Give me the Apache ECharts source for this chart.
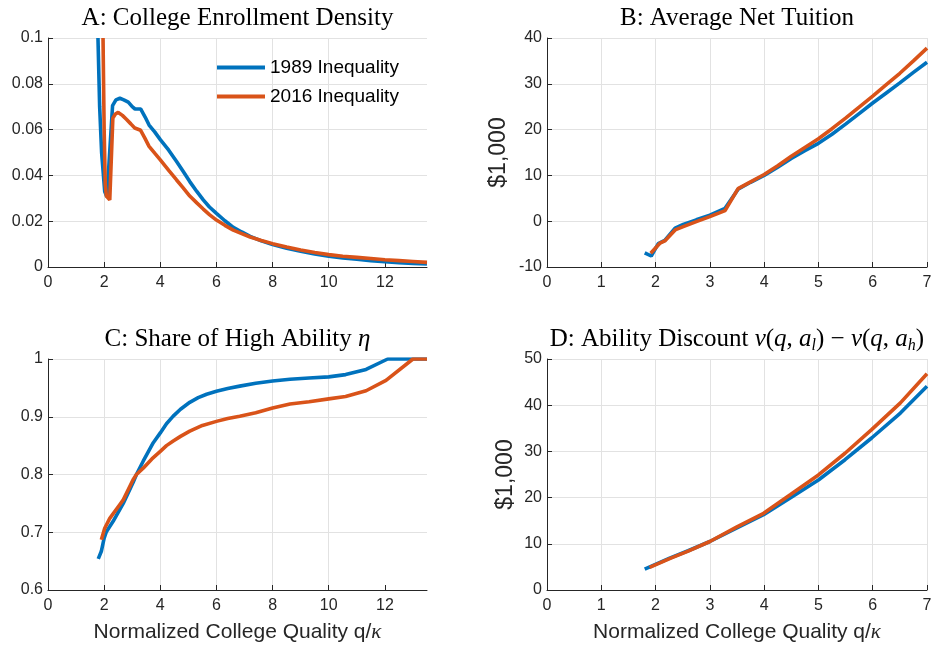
<!DOCTYPE html>
<html>
<head>
<meta charset="utf-8">
<script src="https://cdn.jsdelivr.net/npm/echarts@6/dist/echarts.min.js"></script>
<style>
html, body { margin: 0; padding: 0; background: #fff; }
#chart { width: 935px; height: 648px; }
</style>
</head>
<body>
<div id="chart"></div>
<script>
// ---- Panel A: college enrollment density ----
const qA1989 = [1.78, 1.84, 1.91, 2.02, 2.10, 2.16, 2.30, 2.42, 2.56, 2.70, 2.86, 3.00, 3.10, 3.30, 3.46, 3.60, 3.80, 4.00, 4.30, 4.58, 4.80, 5.05, 5.30, 5.53, 5.75, 6.00, 6.30, 6.60, 6.90, 7.20, 7.60, 8.00, 8.50, 9.00, 9.50, 10.0, 10.5, 11.0, 11.5, 12.0, 12.5, 13.0, 13.5];
const densA1989 = [0.100, 0.070, 0.050, 0.033, 0.0307, 0.0305, 0.0705, 0.0730, 0.0737, 0.0730, 0.0720, 0.0700, 0.0690, 0.0690, 0.0655, 0.0620, 0.0590, 0.0556, 0.0510, 0.0461, 0.0420, 0.0373, 0.0330, 0.0293, 0.0262, 0.0234, 0.0202, 0.0173, 0.0153, 0.0134, 0.0114, 0.0098, 0.0082, 0.0069, 0.0057, 0.0047, 0.0040, 0.0034, 0.0028, 0.0023, 0.0019, 0.0016, 0.0013];
const qA2016 = [1.96, 2.00, 2.04, 2.08, 2.20, 2.24, 2.31, 2.40, 2.50, 2.65, 2.80, 2.95, 3.09, 3.30, 3.45, 3.60, 3.80, 4.00, 4.30, 4.58, 4.80, 5.05, 5.30, 5.53, 5.75, 6.00, 6.30, 6.60, 6.90, 7.20, 7.60, 8.00, 8.50, 9.00, 9.50, 10.0, 10.5, 11.0, 11.5, 12.0, 12.5, 13.0, 13.5];
const densA2016 = [0.100, 0.060, 0.036, 0.031, 0.0293, 0.0300, 0.0650, 0.0668, 0.0675, 0.0662, 0.0644, 0.0625, 0.0607, 0.0597, 0.0563, 0.0527, 0.0497, 0.0468, 0.0422, 0.0380, 0.0348, 0.0310, 0.0280, 0.0253, 0.0229, 0.0205, 0.0182, 0.0161, 0.0146, 0.0131, 0.0116, 0.0102, 0.0087, 0.0074, 0.0063, 0.0054, 0.0047, 0.0042, 0.0037, 0.0032, 0.0028, 0.0024, 0.0020];

// ---- Panel B: average net tuition ($1,000) ----
const qB1989 = [1.80, 1.92, 2.05, 2.17, 2.36, 2.51, 2.75, 3.00, 3.28, 3.52, 3.75, 4.00, 4.25, 4.50, 4.75, 5.00, 5.25, 5.50, 5.75, 6.00, 6.25, 6.50, 6.75, 7.00];
const tuitB1989 = [-6.9, -7.6, -4.9, -4.2, -1.5, -0.7, 0.3, 1.3, 2.8, 7.0, 8.5, 10.0, 11.8, 13.7, 15.4, 17.0, 19.0, 21.2, 23.5, 25.8, 28.0, 30.2, 32.5, 34.7];
const qB2016 = [1.91, 2.08, 2.17, 2.36, 2.51, 2.75, 3.00, 3.28, 3.52, 3.75, 4.00, 4.25, 4.50, 4.75, 5.00, 5.25, 5.50, 5.75, 6.00, 6.25, 6.50, 6.75, 7.00];
const tuitB2016 = [-7.0, -4.8, -4.3, -1.9, -1.2, -0.1, 1.0, 2.3, 7.1, 8.6, 10.2, 12.1, 14.2, 16.1, 18.0, 20.2, 22.5, 24.9, 27.3, 29.8, 32.3, 35.0, 37.8];

// ---- Panel C: share of high ability ----
const qC1989 = [1.79, 1.90, 2.00, 2.08, 2.32, 2.68, 3.03, 3.15, 3.39, 3.75, 4.00, 4.22, 4.46, 4.72, 5.05, 5.35, 5.65, 6.00, 6.40, 6.83, 7.40, 8.00, 8.62, 9.30, 10.0, 10.6, 11.33, 12.1, 13.5];
const etaC1989 = [0.654, 0.667, 0.690, 0.701, 0.719, 0.750, 0.786, 0.800, 0.823, 0.855, 0.872, 0.888, 0.901, 0.913, 0.925, 0.933, 0.939, 0.944, 0.949, 0.953, 0.958, 0.962, 0.965, 0.967, 0.969, 0.973, 0.982, 1.0, 1.0];
const qC2016 = [1.90, 2.02, 2.20, 2.56, 2.68, 3.03, 3.15, 3.39, 3.70, 4.00, 4.22, 4.46, 4.72, 5.05, 5.50, 6.00, 6.40, 6.83, 7.40, 8.00, 8.62, 9.30, 10.0, 10.6, 11.33, 12.04, 13.0, 13.5];
const etaC2016 = [0.687, 0.707, 0.724, 0.748, 0.756, 0.791, 0.800, 0.811, 0.827, 0.840, 0.850, 0.858, 0.866, 0.875, 0.885, 0.892, 0.897, 0.901, 0.907, 0.915, 0.922, 0.926, 0.931, 0.935, 0.945, 0.963, 1.0, 1.0];

// ---- Panel D: ability discount ($1,000) ----
const qD1989 = [1.80, 2.26, 2.60, 3.00, 3.49, 3.99, 4.48, 5.00, 5.49, 5.98, 6.51, 7.00];
const discD1989 = [4.5, 6.9, 8.5, 10.5, 13.4, 16.3, 19.9, 23.8, 28.2, 32.9, 38.3, 44.1];
const qD2016 = [1.89, 2.26, 2.60, 3.00, 3.49, 3.99, 4.48, 5.00, 5.49, 5.98, 6.51, 7.00];
const discD2016 = [4.9, 6.8, 8.4, 10.5, 13.6, 16.6, 20.6, 24.9, 29.6, 34.7, 40.5, 46.8];

const xTicksWide = [0, 2, 4, 6, 8, 10, 12];
const seriesNames = ['1989 Inequality', '2016 Inequality'];

const BLUE = '#0072BD';
const ORANGE = '#D95319';
const INK = '#262626';
const SANS = 'Arial, "Liberation Sans", Helvetica, sans-serif';
const SERIF = '"Times New Roman", "Liberation Serif", serif';

const zip = (xs, ys) => xs.map((x, i) => [x, ys[i]]);

function axisStyle(extra) {
  return Object.assign({
    type: 'value',
    axisLine: { show: true, onZero: false, lineStyle: { color: INK, width: 1 } },
    axisTick: { show: true, inside: true, length: 5, lineStyle: { color: INK } },
    axisLabel: { color: INK, fontSize: 16, fontFamily: SANS },
    splitLine: { show: true, showMinLine: false, lineStyle: { color: '#e2e2e2', width: 1 } }
  }, extra);
}

const xName = {
  name: 'Normalized College Quality q/{k|κ}',
  nameLocation: 'middle',
  nameGap: 32,
  nameTextStyle: {
    fontSize: 21, color: INK, fontFamily: SANS,
    rich: { k: { fontSize: 21, color: INK, fontFamily: SERIF, fontStyle: 'italic' } }
  }
};
const yName = (gap) => ({
  name: '$1,000',
  nameLocation: 'middle',
  nameRotate: 90,
  nameGap: gap,
  nameTextStyle: { fontSize: 23, color: INK, fontFamily: SANS }
});

const yLabel = { color: INK, fontSize: 16, fontFamily: SANS, margin: 5 };

function wideX(gridIndex, extra) {
  return axisStyle(Object.assign({
    gridIndex, min: 0, max: 13.5, interval: 2,
    axisLabel: { color: INK, fontSize: 16, fontFamily: SANS, margin: 8, customValues: xTicksWide },
    axisTick: { show: true, inside: true, length: 5, lineStyle: { color: INK }, customValues: xTicksWide },
    splitLine: { show: true, showMinLine: false, showMaxLine: false, lineStyle: { color: '#e2e2e2', width: 1 } }
  }, extra));
}
function narrowX(gridIndex, extra) {
  return axisStyle(Object.assign({
    gridIndex, min: 0, max: 7, interval: 1,
    axisLabel: { color: INK, fontSize: 16, fontFamily: SANS, margin: 8 }
  }, extra));
}

function line(name, color, xi, data, z) {
  return {
    type: 'line', name, xAxisIndex: xi, yAxisIndex: xi, data,
    symbol: 'none', showSymbol: false, clip: true, z,
    lineStyle: { color, width: 3.6 }, itemStyle: { color },
    emphasis: { disabled: true }
  };
}

const titleBase = { fill: '#000', align: 'center', verticalAlign: 'middle', textAlign: 'center', textVerticalAlign: 'middle' };
const r = { fontFamily: SERIF, fontSize: 25, lineHeight: 30, verticalAlign: 'middle', color: '#000' };
const it = Object.assign({}, r, { fontStyle: 'italic' });
const sub = { fontFamily: SERIF, fontSize: 16, lineHeight: 16, verticalAlign: 'bottom', fontStyle: 'italic', color: '#000' };

const chart = echarts.init(document.getElementById('chart'), null, { renderer: 'canvas' });
chart.setOption({
  animation: false,
  backgroundColor: '#fff',
  textStyle: { fontFamily: SANS },
  grid: [
    { left: 48, top: 38, width: 379, height: 229 },
    { left: 547, top: 38, width: 380, height: 229 },
    { left: 48, top: 359, width: 379, height: 231 },
    { left: 547, top: 359, width: 380, height: 231 }
  ],
  xAxis: [
    wideX(0),
    narrowX(1),
    wideX(2, xName),
    narrowX(3, xName)
  ],
  yAxis: [
    axisStyle({ gridIndex: 0, min: 0, max: 0.1, interval: 0.02, axisLabel: yLabel }),
    axisStyle(Object.assign({ gridIndex: 1, min: -10, max: 40, interval: 10, axisLabel: yLabel }, yName(37))),
    axisStyle({ gridIndex: 2, min: 0.6, max: 1, interval: 0.1, axisLabel: yLabel }),
    axisStyle(Object.assign({ gridIndex: 3, min: 0, max: 50, interval: 10, axisLabel: yLabel }, yName(30)))
  ],
  legend: {
    left: 217, top: 56, orient: 'vertical', padding: 0,
    itemWidth: 48, itemHeight: 4, itemGap: 6, icon: 'rect',
    selectedMode: false,
    data: seriesNames,
    textStyle: { fontSize: 19, lineHeight: 23, color: '#000', fontFamily: SANS }
  },
  graphic: [
    { type: 'text', x: 237.5, y: 18, style: Object.assign({ text: '{r|A: College Enrollment Density}', rich: { r } }, titleBase) },
    { type: 'text', x: 737, y: 18, style: Object.assign({ text: '{r|B: Average Net Tuition}', rich: { r } }, titleBase) },
    { type: 'text', x: 237.5, y: 339, style: Object.assign({ text: '{r|C: Share of High Ability }{i|η}', rich: { r, i: it } }, titleBase) },
    { type: 'text', x: 737, y: 339, style: Object.assign({
        text: '{r|D: Ability Discount }{i|v}{r|(}{i|q}{r|, }{i|a}{s|l}{r|) − }{i|v}{r|(}{i|q}{r|, }{i|a}{s|h}{r|)}',
        rich: { r, i: it, s: sub } }, titleBase) }
  ],
  series: [
    line(seriesNames[0], BLUE, 0, zip(qA1989, densA1989), 2),
    line(seriesNames[1], ORANGE, 0, zip(qA2016, densA2016), 3),
    line(seriesNames[0], BLUE, 1, zip(qB1989, tuitB1989), 2),
    line(seriesNames[1], ORANGE, 1, zip(qB2016, tuitB2016), 3),
    line(seriesNames[0], BLUE, 2, zip(qC1989, etaC1989), 2),
    line(seriesNames[1], ORANGE, 2, zip(qC2016, etaC2016), 3),
    line(seriesNames[0], BLUE, 3, zip(qD1989, discD1989), 2),
    line(seriesNames[1], ORANGE, 3, zip(qD2016, discD2016), 3)
  ]
});
</script>
</body>
</html>
